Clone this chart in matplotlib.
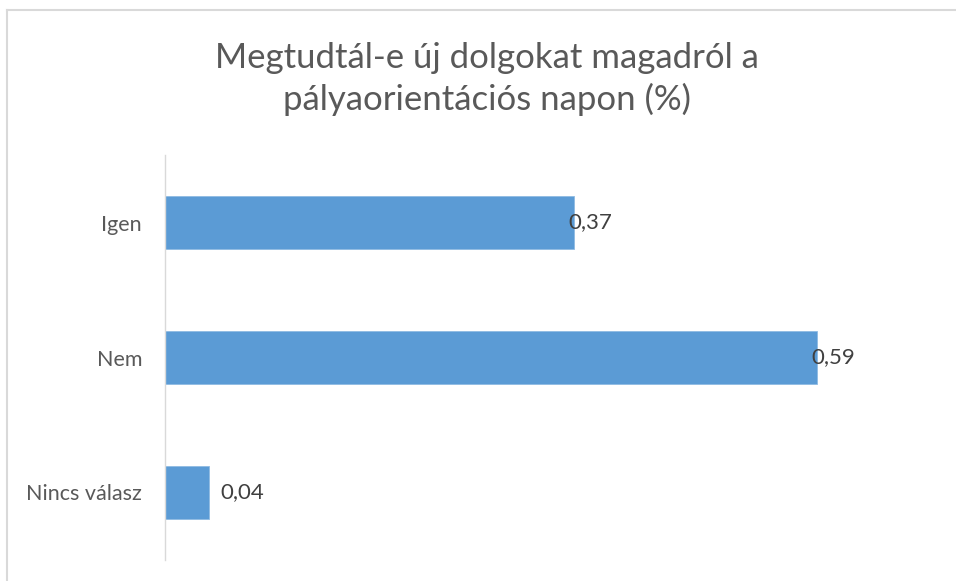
import matplotlib
matplotlib.use("Agg")
import matplotlib.pyplot as plt
from matplotlib.lines import Line2D

# data
categories = ["Igen", "Nem", "Nincs válasz"]
values = [0.37, 0.59, 0.04]
value_labels = ["0,37", "0,59", "0,04"]

plt.rcParams['font.family'] = ['Lato', 'DejaVu Sans']

fig = plt.figure(figsize=(9.56, 5.81), dpi=100)
W, H = 956.0, 581.0

# chart border (only top and left visible in the crop)
fig.add_artist(Line2D([7 / W, 1.0], [1 - 10 / H, 1 - 10 / H], color="#d9d9d9", lw=1.5))
fig.add_artist(Line2D([7 / W, 7 / W], [0.0, 1 - 10 / H], color="#d9d9d9", lw=1.5))

# plot area
left, right, top, bottom = 165, 938, 155, 560
ax = fig.add_axes([left / W, 1 - bottom / H, (right - left) / W, (bottom - top) / H])

ypos = list(range(len(categories)))
ax.barh(ypos, values, height=0.39, color="#5b9bd5", edgecolor="#8fbbe3", linewidth=0.6)
ax.set_xlim(0, 0.7)
ax.set_ylim(2.5, -0.5)

ax.set_yticks(ypos)
ax.set_yticklabels(categories, fontsize=15.5, color="#595959")
ax.tick_params(axis="y", length=0, pad=16.5)
ax.set_xticks([])

for s in ["top", "right", "bottom"]:
    ax.spines[s].set_visible(False)
ax.spines["left"].set_color("#d9d9d9")
ax.spines["left"].set_linewidth(1.0)

for y, v, lab in zip(ypos, values, value_labels):
    off = 11 if v < 0.1 else -5
    ax.annotate(lab, xy=(v, y), xytext=(off * 0.72, 0), textcoords="offset points",
                ha="left", va="center", fontsize=16, color="#404040")

fig.text(487 / W, 1 - 79 / H, "Megtudtál-e új dolgokat magadról a\npályaorientációs napon (%)",
         ha="center", va="center", fontsize=25, color="#595959", linespacing=1.3)

fig.savefig("out.png", dpi=100, facecolor="white")
